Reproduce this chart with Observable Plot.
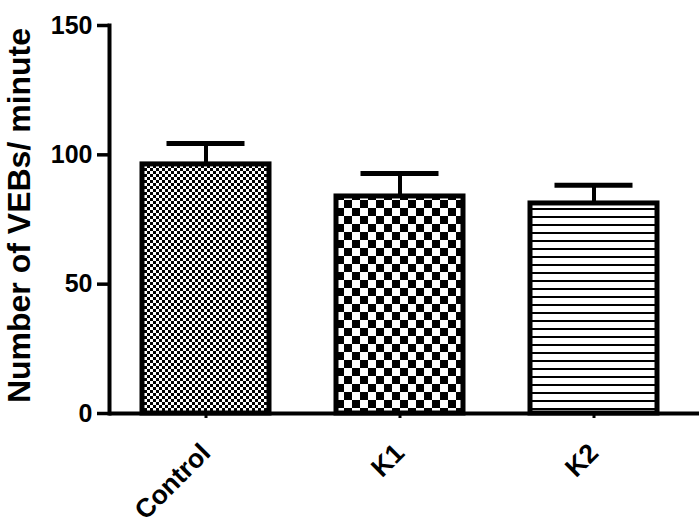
<!DOCTYPE html>
<html>
<head>
<meta charset="utf-8">
<script src="https://cdn.jsdelivr.net/npm/d3@7"></script>
<script src="https://cdn.jsdelivr.net/npm/@observablehq/plot@0.6"></script>
<style>
  html, body { margin: 0; padding: 0; background: #fff; }
</style>
</head>
<body>
<div id="chart"></div>
<script>
const categories = ["Control", "K1", "K2"];
const means = [96.3, 83.9, 81.2];
const sems = [8.1, 8.9, 7.0];
const patternFills = ["url(#fineCheck)", "url(#coarseCheck)", "url(#hLines)"];
const yTicks = [0, 50, 100, 150];
const yLabel = "Number of VEBs/ minute";

const data = categories.map((c, i) => ({category: c, mean: means[i], upper: means[i] + sems[i]}));

const chart = Plot.plot({
  width: 699,
  height: 528,
  marginTop: 25,
  marginBottom: 115,
  marginLeft: 109,
  marginRight: 0,
  style: {fontFamily: "'Liberation Sans', Arial, sans-serif", fontWeight: "bold", color: "black", background: "white"},
  x: {domain: categories, range: [109, 691], paddingInner: 0.345, paddingOuter: 0.1725, label: null},
  y: {domain: [0, 150], label: null},
  color: {domain: categories, range: patternFills},
  marks: [
    Plot.ruleX(data, {x: "category", y1: "mean", y2: "upper", stroke: "black", strokeWidth: 4}),
    Plot.tickY(data, {x: "category", y: "upper", stroke: "black", strokeWidth: 5, insetLeft: 24.5, insetRight: 24.5}),
    Plot.barY(data, {x: "category", y: "mean", fill: "category", stroke: "black", strokeWidth: 5}),
    Plot.ruleY([0], {stroke: "black", strokeWidth: 4}),
    Plot.frame({anchor: "left", stroke: "black", strokeWidth: 4}),
    Plot.axisY({ticks: yTicks, tickSize: 12, tickPadding: 5, fontSize: 25, fontWeight: "bold", strokeWidth: 3.5, label: null}),
    Plot.axisX({tickRotate: -45, tickSize: 5, tickPadding: 30, fontSize: 26.5, fontWeight: "bold", strokeWidth: 3, label: null}),
    Plot.text([yLabel], {frameAnchor: "left", textAnchor: "middle", lineAnchor: "middle", rotate: -90, dx: -90, dy: -4, fontSize: 32, fontWeight: "bold", fill: "black"})
  ]
});

const defs = d3.select(chart).insert("defs", ":first-child");
// fine checkerboard
const p1 = defs.append("pattern").attr("id", "fineCheck").attr("patternUnits", "userSpaceOnUse").attr("width", 6).attr("height", 6);
p1.append("rect").attr("width", 6).attr("height", 6).attr("fill", "white");
p1.append("rect").attr("width", 3).attr("height", 3).attr("fill", "black");
p1.append("rect").attr("x", 3).attr("y", 3).attr("width", 3).attr("height", 3).attr("fill", "black");
// coarse checkerboard
const p2 = defs.append("pattern").attr("id", "coarseCheck").attr("patternUnits", "userSpaceOnUse").attr("width", 16).attr("height", 16);
p2.append("rect").attr("width", 16).attr("height", 16).attr("fill", "white");
p2.append("rect").attr("width", 8).attr("height", 8).attr("fill", "black");
p2.append("rect").attr("x", 8).attr("y", 8).attr("width", 8).attr("height", 8).attr("fill", "black");
// horizontal lines
const p3 = defs.append("pattern").attr("id", "hLines").attr("patternUnits", "userSpaceOnUse").attr("width", 8).attr("height", 8);
p3.append("rect").attr("width", 8).attr("height", 8).attr("fill", "white");
p3.append("rect").attr("y", 0).attr("width", 8).attr("height", 2).attr("fill", "black");

document.getElementById("chart").appendChild(chart);
</script>
</body>
</html>
